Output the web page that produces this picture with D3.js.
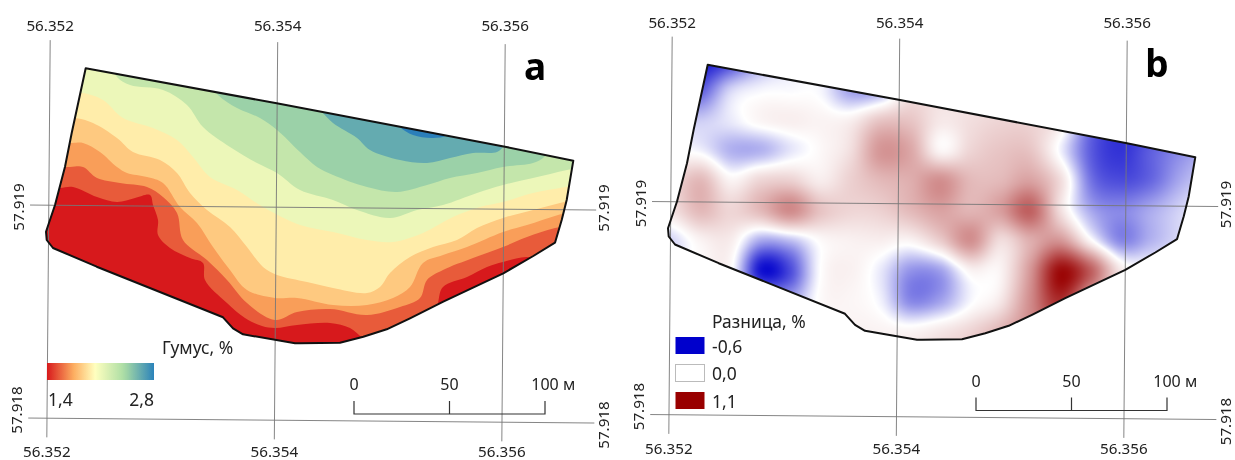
<!DOCTYPE html>
<html><head><meta charset="utf-8">
<script src="https://cdn.jsdelivr.net/npm/d3@7"></script>
<style>html,body{margin:0;background:#fff}text{font-family:"Noto Sans",sans-serif;fill:#222}svg{display:block;filter:blur(.35px)}</style>
</head><body><svg id="c" width="1235" height="460"></svg>
<script>
// ---- data (field coordinates: map units east / north of the local origin) ----
const lonTicks = [56.352, 56.354, 56.356];
const latTicks = [57.919, 57.918];
const scaleTicks = [0, 50, 100];
const humusLegend = ["1,4", "2,8"];
const diffLegendTitle = "Разница, %";
const diffLegendValues = [-0.6, 0, 1.1];
const diffLegendLabels = ["-0,6", "0,0", "1,1"];

const fieldBoundary = [[22.85,165.85],[118.35,148.35],[232.5,126.65],[266.65,119.65],[263.35,100],[260.85,90],[257.5,78.65],[246.65,72],[231.65,63.35],[201.65,49.15],[185,40.85],[173.35,35.35],[161.65,31.65],[150,28.65],[130,28.35],[127.5,28.35],[101.5,32.85],[96.5,35.85],[91.5,41.35],[28.35,66.65],[6.5,76],[3.35,80],[3,84.15],[7.5,97.5],[12.5,116.65],[15.85,133.5]];

const bandColors = ["#d7191c","#e85b3a","#f99e59","#fec980","#ffedaa","#ecf7b9","#c4e6ab","#9bd1a8","#64abb0","#2b7fba"];
const iso1 = [[0,105],[10,106],[16.5,106.5],[28.5,101.5],[38.5,99],[47.5,101],[55,102.5],[56.5,97.5],[59,90],[59,82.5],[65,76],[75,71],[81.5,68.5],[82.5,60],[93.5,48.5],[102.5,41],[111,37],[117.5,36],[128.5,37.5],[145,38.5],[155,36],[161.5,31],[172.5,25],[195,25],[199,48.5],[201.5,56.5],[213.5,61.5],[223.5,66.5],[231.5,69],[243.5,71.5],[252.5,69],[275,69]];
const iso2 = [[0,116.5],[15,116.5],[21.5,116.5],[28.5,111],[40,108.5],[53.5,106.5],[61.5,101.5],[68.5,93.5],[71.5,80],[83.5,70],[93.5,60],[103.5,48.5],[117.5,40],[128.5,44],[145,45.5],[163.5,42.5],[180,46.5],[190,51],[193.5,60],[201.5,65],[216.5,71],[231.5,76.5],[243.5,81.5],[257.5,86],[275,89]];
const iso3 = [[0,128.5],[16,128.5],[21.5,128.5],[30,124],[38.5,116.5],[43.5,113.5],[53.5,111.5],[61.5,108.5],[70,96.5],[78.5,88.5],[86.5,76.5],[95,65],[103.5,55],[117.5,51],[128.5,51],[146.5,47.5],[163.5,47.5],[176.5,51],[185,56.5],[191.5,68.5],[201.5,72.5],[213.5,76.5],[231.5,84],[243.5,87.5],[259,92.5],[275,97.5]];
const iso4 = [[0,141],[17.5,141],[26.5,138.5],[38.5,131],[46.5,124],[60,120],[68.5,113.5],[75,103.5],[83.5,95],[95,86.5],[103.5,76.5],[111.5,66.5],[118.5,62.5],[133.5,59],[146.5,56],[163.5,53.5],[170,56.5],[175,63.5],[185,71.5],[196.5,76.5],[208.5,80],[218.5,86],[231.5,91],[246.5,95],[260,98.5],[275,102.5]];
const iso5 = [[0,155],[21.5,153.5],[31.5,150],[41.5,141],[56.5,136],[68.5,130],[76.5,121.5],[85,111.5],[98.5,105],[111.5,96.5],[130,87.5],[146.5,84],[163.5,80],[176.5,79],[191.5,83.5],[206.5,91.5],[220,96.5],[231.5,99],[246.5,103.5],[262.5,106.5],[275,109]];
const iso6 = [[32.5,172.5],[38.5,161.5],[45,157.5],[61.5,155],[73.5,147.5],[81.5,136.5],[95,126.5],[108.5,118.5],[118.5,113.5],[130,105],[146.5,100],[158.5,95],[175,91],[188.5,95],[201.5,97.5],[218.5,103.5],[231.5,107.5],[246.5,111],[263.5,115],[275,117.5]];
const iso7 = [[82.5,162.5],[89,152.5],[98.5,146],[110,141],[118.5,135],[130,124],[138.5,116.5],[146.5,112.5],[163.5,106.5],[178.5,104],[193.5,107.5],[205,111],[218.5,113.5],[231.5,116.5],[246.5,118.5],[251.5,121],[260,130]];
const iso8 = [[132.5,152.5],[140,145],[146.5,138.5],[158.5,131],[165,125],[180,120],[193.5,118.5],[205,121],[216.5,123.5],[228.5,124],[231.5,126.5],[240,137.5]];
const iso9 = [[176,142.5],[180,136.5],[186.5,132.5],[196.5,131],[203.5,132.5],[210,142.5]];
const isolines = [iso1, iso2, iso3, iso4, iso5, iso6, iso7, iso8, iso9];

// difference field (%), sampled on a 15-unit grid, west to east, north to south
const diffEast = d3.range(19).map(i => 4 + i * 15);
const diffNorth = d3.range(11).map(i => 168.25 - i * 15);
const diffRow0  = [-0.5,-0.55,-0.45,-0.2,-0.05,0,-0.15,-0.3,-0.1,0.05,0.1,0.1,0.1,0.05,-0.2,-0.38,-0.38,-0.38,-0.38];
const diffRow1  = [-0.35,-0.38,-0.1,-0.02,-0.01,-0.02,-0.22,-0.2,0.1,0.12,0.1,0.1,0.1,0.05,-0.2,-0.42,-0.42,-0.42,-0.42];
const diffRow2  = [-0.1,-0.12,-0.05,0.04,0.07,0.05,0.07,0.25,0.25,0.1,0.14,0.18,0.18,0.08,-0.33,-0.48,-0.45,-0.42,-0.4];
const diffRow3  = [0,-0.03,-0.18,-0.18,-0.06,0.03,0.14,0.45,0.38,0.04,0.18,0.25,0.25,-0.03,-0.38,-0.48,-0.38,-0.28,-0.2];
const diffRow4  = [0.15,0.3,0.05,0.18,0.2,0.08,0.2,0.3,0.35,0.48,0.3,0.3,0.4,0.15,-0.32,-0.42,-0.36,-0.2,-0.1];
const diffRow5  = [0.12,0.3,0.18,0.3,0.5,0.26,0.18,0.2,0.3,0.4,0.32,0.42,0.68,0.14,-0.2,-0.28,-0.2,-0.1,0];
const diffRow6  = [-0.1,0.05,0.08,-0.2,-0.15,0.02,0.06,0.07,0.05,0.22,0.48,0.15,0.35,0.45,0.03,-0.28,-0.18,-0.08,0];
const diffRow7  = [0,0.03,0.02,-0.55,-0.42,0,0.06,-0.05,-0.25,-0.22,0.05,0.05,0.45,1.05,0.7,0.1,0,0,0];
const diffRow8  = [0,0,0,-0.15,-0.2,0.02,0.04,-0.03,-0.28,-0.22,-0.02,0.1,0.5,0.9,0.35,0,0,0,0];
const diffRow9  = [0,0,0,0,0,0,0.05,0.05,0.04,0.1,0.18,0.32,0.5,0.6,0.3,0,0,0,0];
const diffRow10 = [0,0,0,0,0,0,0.05,0.05,0.08,0.15,0.25,0.4,0.5,0.3,0,0,0,0,0];
const diffRows = [diffRow0,diffRow1,diffRow2,diffRow3,diffRow4,diffRow5,diffRow6,diffRow7,diffRow8,diffRow9,diffRow10];

// ---- scales ----
const mapX = d3.scaleLinear().domain([0,100]).range([40,240]);
const mapY = d3.scaleLinear().domain([0,100]).range([400,200]);
const gratX = d3.scaleLinear().domain([56.352,56.356]).range([48.8,503.8]);
const gratY = d3.scaleLinear().domain([57.919,57.918]).range([205.2,418.2]);
const metres = d3.scaleLinear().domain([0,100]).range([354,545]);
const diffColor = d3.scaleLinear().domain(diffLegendValues).range(["#0000cc","#ffffff","#990000"]);
const spectral = d3.scaleLinear().domain([0,.25,.45,.72,1]).range(["#d7191c","#fdae61","#ffffbf","#abdda4","#2b83ba"]);
const project = (lon,lat) => {
  const X = gratX(lon), Y = gratY(lat);
  return [X - 0.0085*(Y-205.2), Y + 0.0088*(X-48.8)];
};
const lonEnds = [56.351835,56.356812], latEnds = [57.919775,57.91791];

const svg = d3.select("#c");
const defs = svg.append("defs");
const lin = d3.line().x(d=>mapX(d[0])).y(d=>mapY(d[1]));
const smooth = d3.line().x(d=>mapX(d[0])).y(d=>mapY(d[1])).curve(d3.curveCatmullRom.alpha(0.5));
defs.append("clipPath").attr("id","field").append("path").attr("d",lin(fieldBoundary)+"Z");
const grad = defs.append("linearGradient").attr("id","hg");
d3.range(0,1.01,.05).forEach(t=>grad.append("stop").attr("offset",t).attr("stop-color",spectral(t)));

function graticule(g){
  const line = d3.line();
  lonTicks.forEach(lon=>{
    g.append("path").attr("d",line([project(lon,latEnds[0]),project(lon,latEnds[1])])).attr("stroke","#777").attr("stroke-width",.9).attr("fill","none");
    const t=project(lon,latEnds[0]), b=project(lon,latEnds[1]);
    g.append("text").attr("x",t[0]).attr("y",gratY(latEnds[0])-15).attr("text-anchor","middle").attr("dominant-baseline","central").attr("font-size",15.2).text(lon.toFixed(3));
    g.append("text").attr("x",b[0]).attr("y",gratY(latEnds[1])+14).attr("text-anchor","middle").attr("dominant-baseline","central").attr("font-size",15.2).text(lon.toFixed(3));
  });
  latTicks.forEach((lat,i)=>{
    g.append("path").attr("d",line([project(lonEnds[0],lat),project(lonEnds[1],lat)])).attr("stroke","#777").attr("stroke-width",.9).attr("fill","none");
    const l=project(lonEnds[0],lat), r=project(lonEnds[1],lat);
    [[l[0]-12,l[1]+(i?-8:2)],[r[0]+(i?9:7),r[1]+(i?2:-2)]].forEach(p=>
      g.append("text").attr("transform",`translate(${p[0]},${p[1]}) rotate(-90)`).attr("text-anchor","middle").attr("dominant-baseline","central").attr("font-size",15.2).text(lat.toFixed(3)));
  });
}
function scaleBar(g){
  const y0=401,y1=414;
  g.append("path").attr("fill","none").attr("stroke","#333").attr("stroke-width",1.2)
    .attr("d",`M${metres(0)},${y0}V${y1}H${metres(100)}V${y0}M${metres(50)},${y0}V${y1}`);
  scaleTicks.forEach(v=>g.append("text").attr("x",metres(v)).attr("y",384).attr("text-anchor","middle").attr("dominant-baseline","central").attr("font-size",16).text(v));
  g.append("text").attr("x",metres(100)+18).attr("y",384).attr("dominant-baseline","central").attr("font-size",16).text("м");
}

// panel a
const a = svg.append("g");
const af = a.append("g").attr("clip-path","url(#field)");
af.append("path").attr("d",lin(fieldBoundary)+"Z").attr("fill",bandColors[0]);
isolines.forEach((iso,i)=>{
  const last=iso[iso.length-1], first=iso[0];
  af.append("path").attr("fill",bandColors[i+1])
    .attr("d",smooth(iso)+`L${mapX(last[0])},${mapY(200)}L${mapX(first[0])},${mapY(200)}Z`);
});
graticule(a);
a.append("path").attr("d",lin(fieldBoundary)+"Z").attr("fill","none").attr("stroke","#111").attr("stroke-width",2).attr("stroke-linejoin","round");
a.append("text").attr("x",535).attr("y",80).attr("text-anchor","middle").attr("font-size",37).attr("font-weight",700).attr("font-family","'Open Sans'").style("fill","#000").text("a");
a.append("text").attr("x",162).attr("y",347).attr("dominant-baseline","central").attr("font-size",17.4).text("Гумус, %");
a.append("rect").attr("x",47).attr("y",363).attr("width",107).attr("height",17).attr("fill","url(#hg)");
a.append("text").attr("x",48).attr("y",399).attr("dominant-baseline","central").attr("font-size",17.5).text(humusLegend[0]);
a.append("text").attr("x",154).attr("y",399).attr("text-anchor","end").attr("dominant-baseline","central").attr("font-size",17.5).text(humusLegend[1]);
scaleBar(a);

// panel b
const b = svg.append("g").attr("transform","translate(622,-3.5)");
const w=560,h=320, ox=40,oy=50;
const cv=document.createElement("canvas");cv.width=w;cv.height=h;
const ctx=cv.getContext("2d");const im=ctx.createImageData(w,h);
const cr=(p0,p1,p2,p3,t)=>0.5*(2*p1+(p2-p0)*t+(2*p0-5*p1+4*p2-p3)*t*t+(3*p1-p0-3*p2+p3)*t*t*t);
const cl=(v,n)=>Math.max(0,Math.min(n,v));
const dx=mapX(diffEast[1])-mapX(diffEast[0]), dy=mapY(diffNorth[1])-mapY(diffNorth[0]);
for(let j=0;j<h;j++)for(let i=0;i<w;i++){
  const gx=(i+ox-mapX(diffEast[0]))/dx, gy=(j+oy-mapY(diffNorth[0]))/dy;
  const ci=Math.floor(gx),cj=Math.floor(gy),tx=gx-ci,ty=gy-cj;
  const vals=[-1,0,1,2].map(n=>{
    const r=diffRows[cl(cj+n,diffRows.length-1)];
    return cr(r[cl(ci-1,18)],r[cl(ci,18)],r[cl(ci+1,18)],r[cl(ci+2,18)],tx);
  });
  const v=cr(vals[0],vals[1],vals[2],vals[3],ty);
  const c=d3.rgb(diffColor(cl(v+0.6,1.7)-0.6));
  const k=(j*w+i)*4;im.data[k]=c.r;im.data[k+1]=c.g;im.data[k+2]=c.b;im.data[k+3]=255;
}
ctx.putImageData(im,0,0);
b.append("g").attr("clip-path","url(#field)").append("image").attr("x",ox).attr("y",oy).attr("width",w).attr("height",h).attr("href",cv.toDataURL());
graticule(b);
b.append("path").attr("d",lin(fieldBoundary)+"Z").attr("fill","none").attr("stroke","#111").attr("stroke-width",2).attr("stroke-linejoin","round");
b.append("text").attr("x",535).attr("y",80).attr("text-anchor","middle").attr("font-size",37).attr("font-weight",700).attr("font-family","'Open Sans'").style("fill","#000").text("b");
b.append("text").attr("x",90).attr("y",324.5).attr("dominant-baseline","central").attr("font-size",17.4).text(diffLegendTitle);
diffLegendValues.forEach((v,i)=>{
  const y=340.5+i*27.5;
  b.append("rect").attr("x",53.5).attr("y",y).attr("width",29).attr("height",17).attr("fill",diffColor(v)).attr("stroke",v===0?"#bbb":"none");
  b.append("text").attr("x",90).attr("y",y+8.5).attr("dominant-baseline","central").attr("font-size",17.5).text(diffLegendLabels[i]);
});
scaleBar(b);
</script></body></html>
